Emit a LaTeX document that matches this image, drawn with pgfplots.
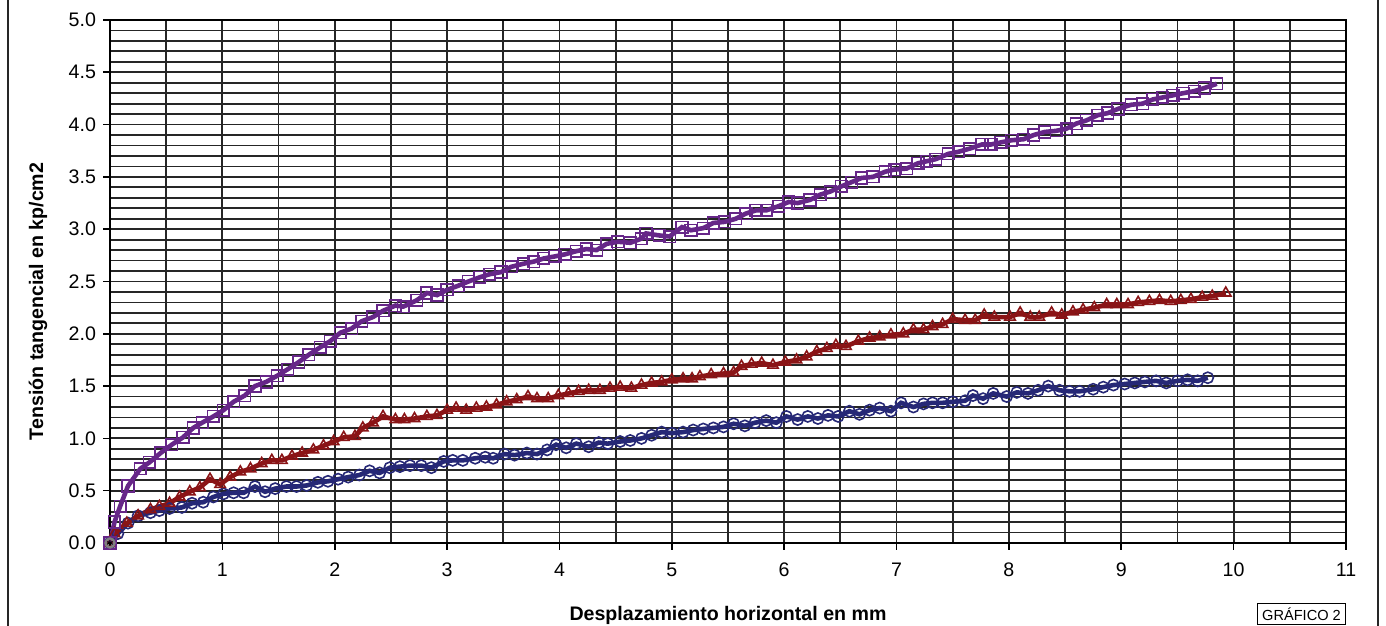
\documentclass[border=0pt]{standalone}
\usepackage{fontspec}
\setmainfont{Liberation Sans}
\usepackage{pgfplots}
\pgfplotsset{compat=1.18}
\definecolor{cpur}{RGB}{102,38,136}
\definecolor{cred}{RGB}{138,20,22}
\definecolor{cblu}{RGB}{38,40,118}
\begin{document}
\begin{tikzpicture}
\useasboundingbox (-55pt,-41.5pt) rectangle (638pt,271.5pt);
\draw[line width=1.4pt,black!85] (-51pt,-45pt) -- (-51pt,275pt);
\draw[line width=1.4pt,black!85] (634pt,-45pt) -- (634pt,275pt);
\begin{axis}[
 scale only axis, width=618pt, height=261.5pt,
 xmin=0,xmax=11,ymin=0,ymax=5,
 xtick={0,1,...,11}, minor x tick num=1,
 ytick={0,0.5,...,5}, minor y tick num=4,
 grid=both,
 major grid style={black!85,line width=0.9pt},
 minor grid style={black!85,line width=0.9pt},
 axis line style={black,line width=0.9pt},
 tick align=outside, major tick length=3.5pt, minor tick length=0pt,
 xtick pos=bottom, ytick pos=left,
 tick style={black,line width=0.8pt},
 /pgf/number format/assume math mode=true,
 yticklabel style={/pgf/number format/.cd,fixed,fixed zerofill,precision=1},
 ticklabel style={font=\fontsize{9.8}{11}\selectfont},
 xticklabel style={yshift=-3pt},
 xlabel={Desplazamiento horizontal en mm},
 ylabel={Tensión tangencial en kp/cm2},
 xlabel style={at={(axis description cs:0.5,0)},anchor=base,yshift=-38.5pt,font=\fontsize{9.8}{11}\selectfont\bfseries},
 ylabel style={at={(axis description cs:-0.0583,0.462)},anchor=center,rotate=0,font=\fontsize{9.8}{11}\selectfont\bfseries},
 clip=false,
]
\addplot[cblu,line width=2.3pt,mark=o,mark size=2.8pt,mark options={line width=0.8pt,fill=none}] coordinates {
(0,0) (0.07,0.09) (0.16,0.19) (0.25,0.26) (0.36,0.29) (0.44,0.31) (0.53,0.33) (0.64,0.34) (0.73,0.38) (0.83,0.39) (0.92,0.44) (1.01,0.47) (1.10,0.48) (1.19,0.48) (1.29,0.54) (1.38,0.49) (1.47,0.52) (1.57,0.54) (1.66,0.54) (1.75,0.55) (1.85,0.58) (1.94,0.59) (2.03,0.61) (2.12,0.63) (2.22,0.65) (2.31,0.69) (2.40,0.67) (2.49,0.72) (2.58,0.73) (2.67,0.74) (2.77,0.74) (2.86,0.72) (2.97,0.78) (3.05,0.79) (3.14,0.79) (3.25,0.81) (3.34,0.82) (3.41,0.81) (3.51,0.85) (3.60,0.84) (3.71,0.86) (3.80,0.85) (3.89,0.89) (3.97,0.94) (4.06,0.91) (4.15,0.95) (4.26,0.92) (4.35,0.96) (4.43,0.95) (4.54,0.97) (4.63,0.98) (4.73,1.00) (4.82,1.03) (4.91,1.06) (5.00,1.05) (5.10,1.06) (5.19,1.08) (5.28,1.09) (5.37,1.10) (5.46,1.11) (5.55,1.14) (5.65,1.12) (5.74,1.15) (5.84,1.17) (5.93,1.15) (6.02,1.21) (6.12,1.18) (6.21,1.21) (6.30,1.19) (6.39,1.22) (6.48,1.21) (6.58,1.26) (6.67,1.23) (6.76,1.27) (6.85,1.29) (6.95,1.26) (7.04,1.34) (7.15,1.30) (7.24,1.33) (7.32,1.34) (7.41,1.34) (7.50,1.35) (7.61,1.36) (7.68,1.41) (7.77,1.38) (7.86,1.43) (7.98,1.40) (8.07,1.44) (8.17,1.43) (8.26,1.46) (8.35,1.50) (8.45,1.46) (8.54,1.45) (8.63,1.45) (8.75,1.47) (8.84,1.49) (8.93,1.51) (9.03,1.52) (9.12,1.53) (9.21,1.54) (9.31,1.55) (9.40,1.53) (9.50,1.55) (9.59,1.56) (9.68,1.55) (9.77,1.58)
};
\addplot[cred,line width=2.3pt,mark=triangle,mark size=3pt,mark options={line width=0.8pt,fill=none}] coordinates {
(0,0) (0.04,0.09) (0.15,0.19) (0.25,0.26) (0.36,0.32) (0.44,0.35) (0.53,0.38) (0.62,0.44) (0.71,0.49) (0.80,0.53) (0.89,0.61) (0.98,0.56) (1.07,0.63) (1.16,0.68) (1.25,0.71) (1.35,0.76) (1.44,0.79) (1.53,0.79) (1.62,0.83) (1.71,0.86) (1.81,0.89) (1.90,0.93) (1.99,0.97) (2.08,1.01) (2.18,1.02) (2.25,1.10) (2.34,1.15) (2.43,1.21) (2.54,1.18) (2.62,1.18) (2.71,1.19) (2.82,1.21) (2.91,1.22) (3.00,1.27) (3.08,1.29) (3.17,1.27) (3.26,1.29) (3.35,1.30) (3.44,1.32) (3.53,1.35) (3.62,1.37) (3.72,1.40) (3.80,1.38) (3.90,1.38) (3.99,1.41) (4.08,1.43) (4.17,1.45) (4.26,1.46) (4.36,1.46) (4.45,1.48) (4.54,1.49) (4.64,1.48) (4.73,1.51) (4.82,1.53) (4.91,1.54) (5.00,1.56) (5.10,1.57) (5.18,1.57) (5.25,1.59) (5.35,1.61) (5.46,1.62) (5.55,1.63) (5.62,1.69) (5.71,1.71) (5.80,1.72) (5.90,1.70) (6.01,1.73) (6.11,1.75) (6.20,1.78) (6.29,1.83) (6.38,1.86) (6.46,1.89) (6.55,1.88) (6.66,1.93) (6.76,1.96) (6.85,1.97) (6.95,1.99) (7.06,2.00) (7.15,2.04) (7.24,2.04) (7.32,2.07) (7.41,2.09) (7.50,2.14) (7.61,2.13) (7.70,2.13) (7.78,2.18) (7.87,2.16) (8.01,2.16) (8.10,2.20) (8.19,2.16) (8.27,2.16) (8.38,2.20) (8.47,2.18) (8.57,2.21) (8.66,2.23) (8.76,2.25) (8.87,2.28) (8.96,2.28) (9.06,2.28) (9.15,2.30) (9.25,2.31) (9.34,2.32) (9.44,2.31) (9.53,2.32) (9.62,2.33) (9.72,2.35) (9.81,2.36) (9.93,2.39)
};
\addplot[cpur,line width=2.3pt,mark=square,mark size=2.9pt,mark options={line width=0.8pt,fill=none}] coordinates {
(0,0) (0.04,0.20) (0.09,0.35) (0.16,0.545) (0.27,0.71) (0.35,0.77) (0.45,0.86) (0.55,0.94) (0.65,1.01) (0.74,1.10) (0.82,1.15) (0.92,1.21) (1.01,1.27) (1.10,1.35) (1.20,1.41) (1.29,1.50) (1.39,1.54) (1.49,1.60) (1.58,1.66) (1.68,1.73) (1.77,1.80) (1.87,1.87) (1.96,1.93) (2.05,2.01) (2.15,2.05) (2.24,2.12) (2.34,2.16) (2.43,2.22) (2.54,2.27) (2.61,2.26) (2.73,2.32) (2.82,2.39) (2.91,2.37) (3.00,2.42) (3.10,2.46) (3.19,2.50) (3.29,2.54) (3.38,2.57) (3.48,2.59) (3.57,2.64) (3.68,2.67) (3.77,2.69) (3.86,2.72) (3.96,2.74) (4.05,2.76) (4.15,2.79) (4.24,2.81) (4.33,2.80) (4.42,2.86) (4.52,2.88) (4.63,2.87) (4.73,2.91) (4.77,2.96) (4.89,2.94) (4.98,2.93) (5.09,3.02) (5.17,2.99) (5.28,3.01) (5.37,3.06) (5.47,3.07) (5.57,3.10) (5.66,3.15) (5.75,3.18) (5.84,3.18) (5.95,3.22) (6.04,3.26) (6.12,3.25) (6.23,3.28) (6.32,3.33) (6.41,3.36) (6.51,3.41) (6.60,3.45) (6.69,3.49) (6.79,3.50) (6.90,3.55) (6.98,3.57) (7.09,3.58) (7.19,3.63) (7.27,3.65) (7.35,3.67) (7.46,3.72) (7.55,3.74) (7.65,3.77) (7.76,3.81) (7.84,3.81) (7.93,3.83) (8.02,3.85) (8.13,3.86) (8.22,3.90) (8.32,3.93) (8.42,3.94) (8.51,3.96) (8.60,4.01) (8.69,4.04) (8.79,4.09) (8.88,4.11) (8.97,4.15) (9.09,4.19) (9.19,4.20) (9.28,4.24) (9.37,4.26) (9.46,4.28) (9.55,4.30) (9.65,4.32) (9.74,4.35) (9.85,4.39)
};
\addplot[only marks,gray,mark=o,mark size=2.2pt,mark options={line width=1.3pt}] coordinates {(0,0)};
\addplot[only marks,black,mark=asterisk,mark size=1.5pt,mark options={line width=0.5pt}] coordinates {(0,0)};
\node[draw=black,line width=0.5pt,anchor=north east,minimum width=44pt,minimum height=10.5pt,inner sep=1pt,font=\fontsize{7.3}{8}\selectfont] at ([yshift=-30pt]rel axis cs:1,0) {GRÁFICO 2};
\end{axis}
\end{tikzpicture}
\end{document}
